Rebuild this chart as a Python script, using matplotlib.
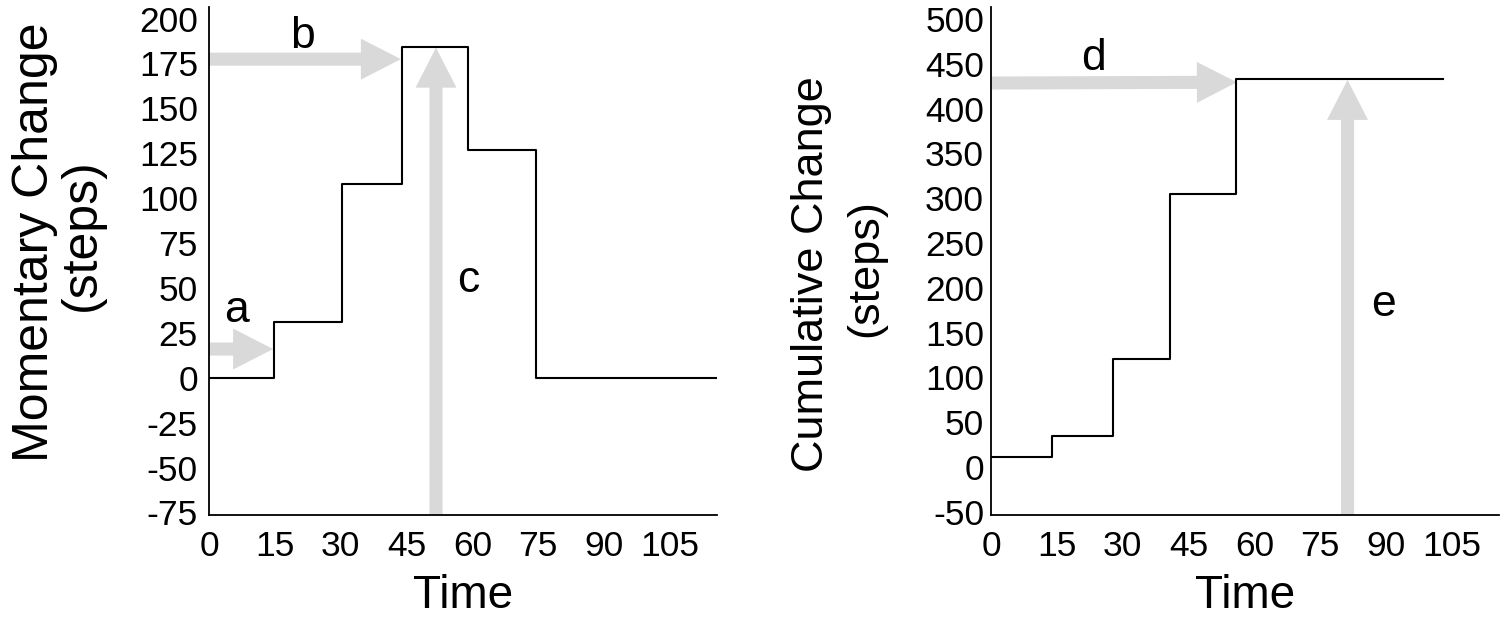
import matplotlib
matplotlib.use("Agg")
import matplotlib.pyplot as plt

# ---- data ----
time_left = [0, 14.8, 30.2, 44.0, 59.1, 74.4, 115.6]      # step edges (Time)
momentary = [0, 31, 108, 184, 127, 0]                       # steps
time_right = [0, 14.0, 27.7, 40.8, 55.9, 102.9]
cumulative = [11, 35, 120, 305, 433]

x_ticks = [0, 15, 30, 45, 60, 75, 90, 105]
y_ticks_left = [-75, -50, -25, 0, 25, 50, 75, 100, 125, 150, 175, 200]
y_ticks_right = [-50, 0, 50, 100, 150, 200, 250, 300, 350, 400, 450, 500]

plt.rcParams['font.family'] = ['Liberation Sans', 'DejaVu Sans']
GREY = '#d9d9d9'
TICK_FS = 25.5
W, H = 1500, 619
fig = plt.figure(figsize=(W / 100, H / 100), dpi=100)

def make_ax(left_px):
    ax = fig.add_axes([left_px / W, (H - 515) / H, 508 / W, 508.3 / H])
    for s in ['top', 'right']:
        ax.spines[s].set_visible(False)
    for s in ['left', 'bottom']:
        ax.spines[s].set_linewidth(1.3)
        ax.spines[s].set_color('black')
    ax.set_xlim(0, 115.7)
    ax.set_xticks(x_ticks)
    ax.set_xticklabels([str(v) for v in x_ticks], fontsize=TICK_FS)
    return ax

def arrow(ax, start, tip):
    ax.annotate('', xy=tip, xytext=start,
                arrowprops=dict(width=9.4, headwidth=29.5, headlength=28.8,
                                facecolor=GREY, edgecolor='none', shrink=0),
                zorder=1, annotation_clip=False)

# ---- left panel ----
ax1 = make_ax(209)
ax1.set_ylim(-76.4, 206.6)
ax1.set_yticks(y_ticks_left)
ax1.set_yticklabels([str(v) for v in y_ticks_left], fontsize=TICK_FS)
ax1.tick_params(axis='y', length=0, pad=8)
ax1.tick_params(axis='x', length=0, pad=11)
ax1.step(time_left, momentary + [momentary[-1]], where='post',
         color='black', lw=1.5, zorder=3)
arrow(ax1, (0, 16), (14.6, 16))
arrow(ax1, (0, 177.4), (43.7, 177.4))
arrow(ax1, (51.7, -76.4), (51.7, 183.8))
ax1.text(6.2, 31.2, 'a', fontsize=32, ha='center', va='baseline')
ax1.text(21.4, 183.5, 'b', fontsize=32, ha='center', va='baseline')
ax1.text(59, 47.9, 'c', fontsize=32, ha='center', va='baseline')

# ---- right panel ----
ax2 = make_ax(991)
ax2.set_ylim(-53.6, 513.7)
ax2.set_yticks(y_ticks_right)
ax2.set_yticklabels([str(v) for v in y_ticks_right], fontsize=TICK_FS)
ax2.tick_params(axis='y', length=0, pad=5)
ax2.tick_params(axis='x', length=0, pad=11)
ax2.step(time_right, cumulative + [cumulative[-1]], where='post',
         color='black', lw=1.5, zorder=3)
arrow(ax2, (0, 428.5), (56, 429.4))
arrow(ax2, (81.2, -53.6), (81.2, 432))
ax2.text(23.3, 443, 'd', fontsize=32, ha='center', va='baseline')
ax2.text(89.4, 168.5, 'e', fontsize=32, ha='center', va='baseline')

# ---- axis titles ----
fig.text(35 / W, (H - 242) / H, 'Momentary Change', rotation=90,
         fontsize=36, ha='center', va='center')
fig.text(82 / W, (H - 235) / H, '(steps)', rotation=90,
         fontsize=36, ha='center', va='center')
fig.text(811 / W, (H - 274) / H, 'Cumulative Change', rotation=90,
         fontsize=32.5, ha='center', va='center')
fig.text(866 / W, (H - 268) / H, '(steps)', rotation=90,
         fontsize=32.5, ha='center', va='center')
fig.text(463 / W, 1 / H, 'Time', fontsize=33, ha='center', va='bottom')
fig.text(1245 / W, 1 / H, 'Time', fontsize=33, ha='center', va='bottom')

fig.savefig('out.png', dpi=100)
